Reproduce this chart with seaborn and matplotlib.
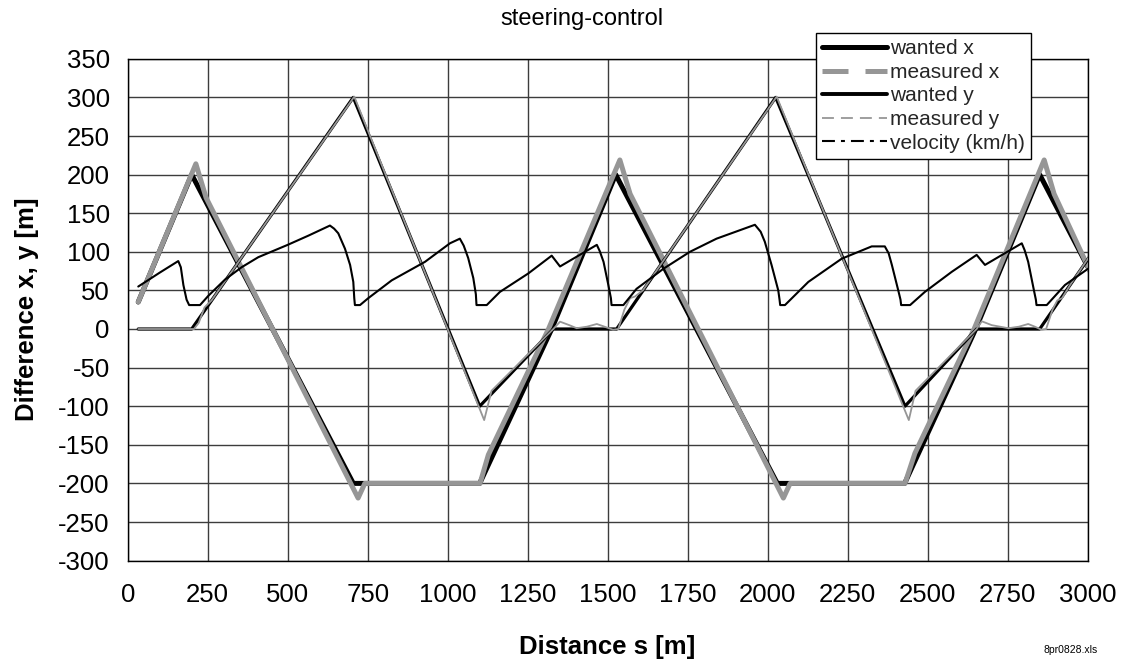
import matplotlib
matplotlib.use("Agg")
import matplotlib.pyplot as plt
from matplotlib.lines import Line2D
import seaborn as sns

# ---- data: distance s [m] and the plotted quantities ----
wanted_x_s = [33, 200, 705, 1100, 1325, 1525, 2030, 2428, 2650, 2850, 3020]
wanted_x = [35, 200, -200, -200, 0, 200, -200, -200, 0, 200, 65]

measured_x_s = [33, 213, 245, 720, 741, 1101, 1127, 1315, 1538, 1570, 2049, 2070,
                2429, 2460, 2645, 2864, 2895, 3023]
measured_x = [35, 214, 170, -219, -200, -200, -163, 0, 219, 175, -219, -200,
              -200, -161, 0, 219, 175, 61]

wanted_y_s = [33, 200, 705, 1100, 1330, 1528, 2025, 2429, 2653, 2850, 3020]
wanted_y = [0, 0, 300, -100, 0, 0, 300, -100, 0, 0, 102]

measured_y_s = [33, 207, 222, 240, 262, 708, 1114, 1137, 1330, 1351, 1380, 1403,
                1435, 1466, 1490, 1517, 1533, 1552, 1570, 1585, 1610, 2028, 2441,
                2462, 2653, 2669, 2700, 2752, 2785, 2814, 2835, 2856, 2870, 2890,
                2905, 2920, 2945, 3020]
measured_y = [0, 0, 8, 28, 37, 301, -118, -80, 0, 9.5, 5, 1,
              3, 6.5, 3, -1, 0, 25, 40, 42, 50, 301, -118,
              -80, 0, 10, 5, 1, 3, 6.5, 3, -1, 0, 25,
              37, 40, 57, 103]

velocity_s = [33, 100, 158, 166, 174, 184, 192, 226, 252, 304, 356, 408, 500, 565,
              632, 645, 658, 679, 695, 705, 708, 710, 726, 752, 825, 929, 1007,
              1038, 1050, 1064, 1080, 1088, 1090, 1122, 1163, 1252, 1325, 1351,
              1466, 1475, 1487, 1502, 1510, 1512, 1549, 1590, 1674, 1757, 1840,
              1960, 1978, 1991, 2012, 2033, 2037, 2039, 2054, 2127, 2231, 2325,
              2366, 2378, 2388, 2408, 2415, 2417, 2445, 2491, 2575, 2653, 2679,
              2794, 2803, 2814, 2833, 2838, 2840, 2872, 2929, 3018]
velocity = [55, 73, 88, 80, 57, 38, 31, 31, 43, 64, 80, 93, 109, 121,
            134, 130, 124, 104, 83, 61, 40, 31, 31, 40, 63, 87, 111,
            117, 108, 92, 66, 45, 31, 31, 48, 72, 95, 81,
            109, 101, 87, 57, 40, 31, 31, 52, 78, 100, 117,
            135, 126, 113, 83, 50, 38, 31, 31, 61, 91, 107,
            107, 98, 83, 50, 38, 31, 31, 48, 74, 96, 83,
            111, 102, 87, 48, 38, 31, 31, 57, 83]

x_ticks = list(range(0, 3001, 250))
y_ticks = list(range(-300, 351, 50))

GRAY = "#969696"

sns.set_style("white")
plt.rcParams["font.family"] = ["Liberation Sans", "DejaVu Sans"]

W, H = 1126, 662
fig = plt.figure(figsize=(W / 100, H / 100), dpi=100)
left, right, top, bottom = 127.7, 1087.7, 58.8, 560.6
ax = fig.add_axes([left / W, 1 - bottom / H, (right - left) / W, (bottom - top) / H])

series = [
    ("wanted x", wanted_x_s, wanted_x, "black", 3.6),
    ("measured x", measured_x_s, measured_x, GRAY, 3.6),
    ("wanted y", wanted_y_s, wanted_y, "black", 2.3),
    ("measured y", measured_y_s, measured_y, GRAY, 1.3),
    ("velocity (km/h)", velocity_s, velocity, "black", 1.5),
]
for name, s, v, color, lw in series:
    sns.lineplot(x=s, y=v, ax=ax, color=color, linewidth=lw, sort=False,
                 estimator=None, legend=False, zorder=3)

ax.set_xlim(0, 3000)
ax.set_ylim(-300, 350)
ax.set_xticks(x_ticks)
ax.set_yticks(y_ticks)
ax.set_xticklabels([str(t) for t in x_ticks])
ax.set_yticklabels([str(t) for t in y_ticks])
ax.set_xlabel("")
ax.set_ylabel("")
ax.grid(True, color="#3c3c3c", linewidth=1.0)
ax.set_axisbelow(True)
for sp in ax.spines.values():
    sp.set_color("black")
    sp.set_linewidth(1.0)
    sp.set_visible(True)
ax.tick_params(axis="both", direction="out", length=6, width=1, color="black",
               labelsize=18.5, labelcolor="black")
ax.tick_params(axis="x", pad=10)
ax.tick_params(axis="y", pad=7)

# titles
fig.text(582 / W, 1 - 19 / H, "steering-control", ha="center", va="center",
         fontsize=17, color="black")
fig.text(607 / W, 1 - 647 / H, "Distance s [m]", ha="center", va="center",
         fontsize=18.5, fontweight="bold", color="black")
fig.text(27 / W, 1 - 309 / H, "Difference x, y [m]", ha="center", va="center",
         rotation=90, fontsize=18.5, fontweight="bold", color="black")
fig.text(1098 / W, 1 - 650 / H, "8pr0828.xls", ha="right", va="center",
         fontsize=7.5, color="black")

# legend
handles = [
    Line2D([], [], color="black", linewidth=3.6),
    Line2D([], [], color=GRAY, linewidth=3.6, dashes=(5.2, 3.4)),
    Line2D([], [], color="black", linewidth=2.8),
    Line2D([], [], color=GRAY, linewidth=1.3, dashes=(6.6, 3.9)),
    Line2D([], [], color="black", linewidth=1.5, dashes=(6.2, 2.9, 1.9, 2.9)),
]
labels = [s[0] for s in series]
leg = fig.legend(handles, labels, loc="upper left",
                 bbox_to_anchor=(816 / W, 1 - 33 / H), borderaxespad=0,
                 fontsize=15, handlelength=3.1, handletextpad=0.15,
                 labelspacing=0.22, borderpad=0.3, fancybox=False,
                 framealpha=1, edgecolor="black", facecolor="white")
leg.get_frame().set_linewidth(1.0)

fig.savefig("out.png", dpi=100, facecolor="white")
